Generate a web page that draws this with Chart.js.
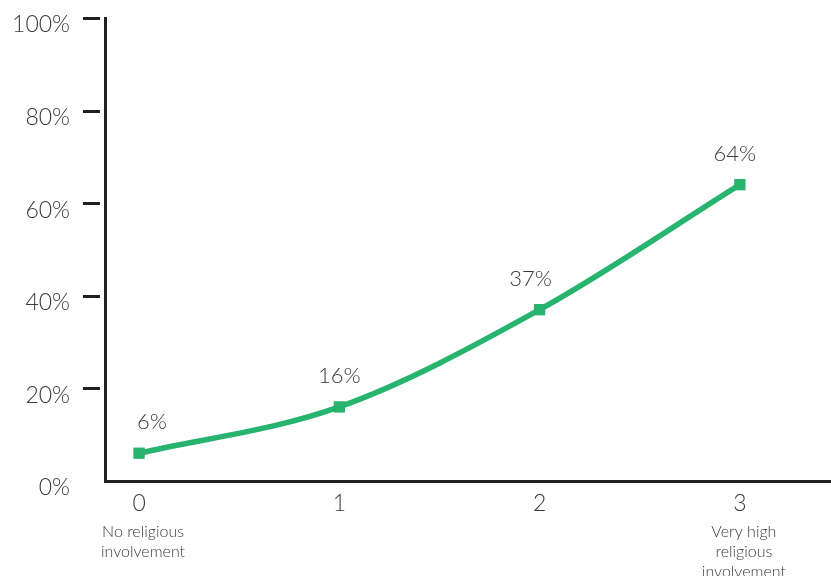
<!DOCTYPE html>
<html>
<head>
<meta charset="utf-8">
<script src="https://cdn.jsdelivr.net/npm/chart.js@4/dist/chart.umd.min.js"></script>
<style>
  html, body { margin: 0; padding: 0; background: #ffffff; }
  #wrap { width: 831px; height: 576px; position: relative; }
</style>
</head>
<body>
<div id="wrap"><canvas id="c" width="831" height="576"></canvas></div>
<script>
const categories = ['0', '1', '2', '3'];
const categoryNotes = [['No religious', 'involvement'], [], [], ['Very high', 'religious', 'involvement']];
const values = [6, 16, 37, 64];
const yTicks = [0, 20, 40, 60, 80, 100];

const GREEN = '#27b46e';
const INK = '#231f20';
const TEXT = '#3a3a3a';
const FONT = 'Lato, "Open Sans", sans-serif';

const extras = {
  id: 'extras',
  afterDraw(chart) {
    const ctx = chart.ctx;
    const area = chart.chartArea;
    const ys = chart.scales.y, xs = chart.scales.x;
    ctx.save();
    ctx.strokeStyle = INK;
    ctx.lineWidth = 3;
    yTicks.forEach(v => {
      if (v === 0) return;
      const y = Math.round(ys.getPixelForValue(v)) + 0.5;
      ctx.beginPath();
      ctx.moveTo(area.left - 22, y);
      ctx.lineTo(area.left - 5, y);
      ctx.stroke();
    });
    ctx.fillStyle = TEXT;
    ctx.font = '300 22px ' + FONT;
    ctx.textAlign = 'center';
    ctx.textBaseline = 'middle';
    const meta = chart.getDatasetMeta(0);
    meta.data.forEach((pt, i) => {
      const dx = i === 0 ? 13 : (i === 2 ? -9 : (i === 3 ? -5 : 0));
      ctx.fillText(values[i] + '%', pt.x + dx, pt.y - 31);
    });
    ctx.font = '300 16px ' + FONT;
    categoryNotes.forEach((lines, i) => {
      const x = xs.getPixelForValue(i) + 4;
      lines.forEach((ln, j) => {
        ctx.fillText(ln, x, 532 + j * 20);
      });
    });
    ctx.restore();
  }
};

new Chart(document.getElementById('c'), {
  type: 'line',
  data: {
    datasets: [{
      data: values.map((v, i) => ({ x: i, y: v })),
      borderColor: GREEN,
      backgroundColor: GREEN,
      borderWidth: 5.5,
      pointStyle: 'rect',
      pointRadius: 8,
      pointHoverRadius: 8,
      pointBackgroundColor: GREEN,
      pointBorderWidth: 0,
      cubicInterpolationMode: 'monotone',
      fill: false
    }]
  },
  plugins: [extras],
  options: {
    responsive: false,
    animation: false,
    events: [],
    layout: { autoPadding: false, padding: { top: 18, right: 1, left: 0, bottom: 0 } },
    plugins: { legend: { display: false }, tooltip: { enabled: false } },
    scales: {
      x: {
        type: 'linear',
        min: -0.17,
        max: 3.45,
        afterBuildTicks(scale) { scale.ticks = categories.map((c, i) => ({ value: i })); },
        afterFit(scale) { scale.height = 95; scale.paddingLeft = 0; scale.paddingRight = 0; },
        grid: { display: false, drawTicks: false },
        border: { display: true, color: INK, width: 3 },
        ticks: {
          padding: 9,
          color: TEXT,
          font: { family: FONT, size: 23, weight: '300' },
          callback: (v) => categories[v]
        }
      },
      y: {
        min: 0,
        max: 100,
        afterBuildTicks(scale) { scale.ticks = yTicks.map(v => ({ value: v })); },
        afterFit(scale) { scale.width = 105; scale.paddingTop = 0; scale.paddingBottom = 0; },
        grid: { display: false, drawTicks: false },
        border: { display: true, color: INK, width: 3 },
        ticks: {
          padding: 35,
          labelOffset: 7,
          color: TEXT,
          font: { family: FONT, size: 23, weight: '300' },
          callback: (v) => v + '%'
        }
      }
    }
  }
});
</script>
</body>
</html>
